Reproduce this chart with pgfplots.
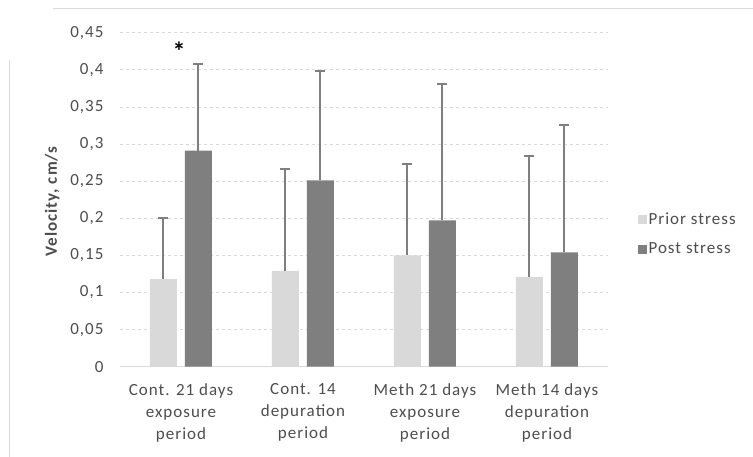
\documentclass[border=0pt]{standalone}
\usepackage{pgfplots}
\pgfplotsset{compat=1.18}
\usepackage{pgfplotstable}
\usepackage{fontspec}
\setmainfont[LetterSpace=6]{Carlito}
\definecolor{txt}{HTML}{4D4D4D}
\definecolor{lightbar}{HTML}{D9D9D9}
\definecolor{darkbar}{HTML}{7F7F7F}
\definecolor{gridc}{HTML}{D9D9D9}
\pgfplotstableread{
x y e
0 0.118 0.083
1 0.129 0.137
2 0.150 0.123
3 0.121 0.163
}\prior
\pgfplotstableread{
x y e
0 0.291 0.117
1 0.251 0.147
2 0.197 0.184
3 0.154 0.171
}\post
\begin{document}
\begin{tikzpicture}
\path[use as bounding box] (-120pt,-90.3pt) rectangle (633pt,366.7pt);
\draw[gridc, line width=1pt] (-67pt,357.7pt) -- (633pt,357.7pt);
\draw[gridc, line width=1pt] (-110pt,306.7pt) -- (-110pt,-90.3pt);
\begin{axis}[
  at={(0pt,0pt)}, anchor=south west,
  scale only axis, width=488pt, height=334pt,
  xmin=-0.5, xmax=3.5, ymin=0, ymax=0.45,
  ybar=8pt, bar width=27pt,
  axis x line*=bottom, axis y line*=left,
  x axis line style={draw=gridc, line width=1.2pt, -},
  y axis line style={draw=none},
  ytick={0,0.05,...,0.45},
  ymajorgrids, grid style={dashed, gridc, line width=0.8pt},
  major tick length=0pt,
  xtick=data,
  xticklabels={Cont. 21 days\\exposure\\period, Cont. 14\\depuration\\period, Meth 21 days\\exposure\\period, Meth 14 days\\depuration\\period},
  xticklabel style={align=center, font=\fontsize{17}{22}\selectfont, text=txt, yshift=-13pt},
  yticklabel style={font=\fontsize{17}{19}\selectfont, text=txt, xshift=-13pt},
  /pgf/number format/assume math mode=true,
  /pgf/number format/use comma,
  /pgf/number format/fixed,
  ytick style={draw=none},
  ylabel={\textbf{Velocity, cm/s}},
  ylabel style={at={(axis description cs:-0.139,0.496)}, anchor=center, font=\fontsize{17}{19}\selectfont, text=txt},
  legend style={at={(rel axis cs:1.054,0.397)}, anchor=west, draw=none, fill=none,
    font=\fontsize{17}{19}\selectfont, text=txt, row sep=13pt,
    /tikz/every even column/.append style={column sep=5pt}},
  legend image code/.code={\fill[#1] (0pt,-4.5pt) rectangle (9pt,4.5pt);},
  legend cell align=left,
  error bars/y dir=plus, error bars/y explicit,
  error bars/error bar style={darkbar, line width=2pt},
  error bars/error mark options={rotate=90, mark size=5pt, line width=2pt, darkbar},
]
\addplot[fill=lightbar, draw=none] table[x=x, y=y, y error=e] {\prior};
\addlegendentry{Prior stress}
\addplot[fill=darkbar, draw=none] table[x=x, y=y, y error=e] {\post};
\addlegendentry{Post stress}
\node[font=\fontsize{26}{26}\selectfont\bfseries, text=black] at (axis cs:-0.015,0.425) {*};
\end{axis}
\end{tikzpicture}
\end{document}
